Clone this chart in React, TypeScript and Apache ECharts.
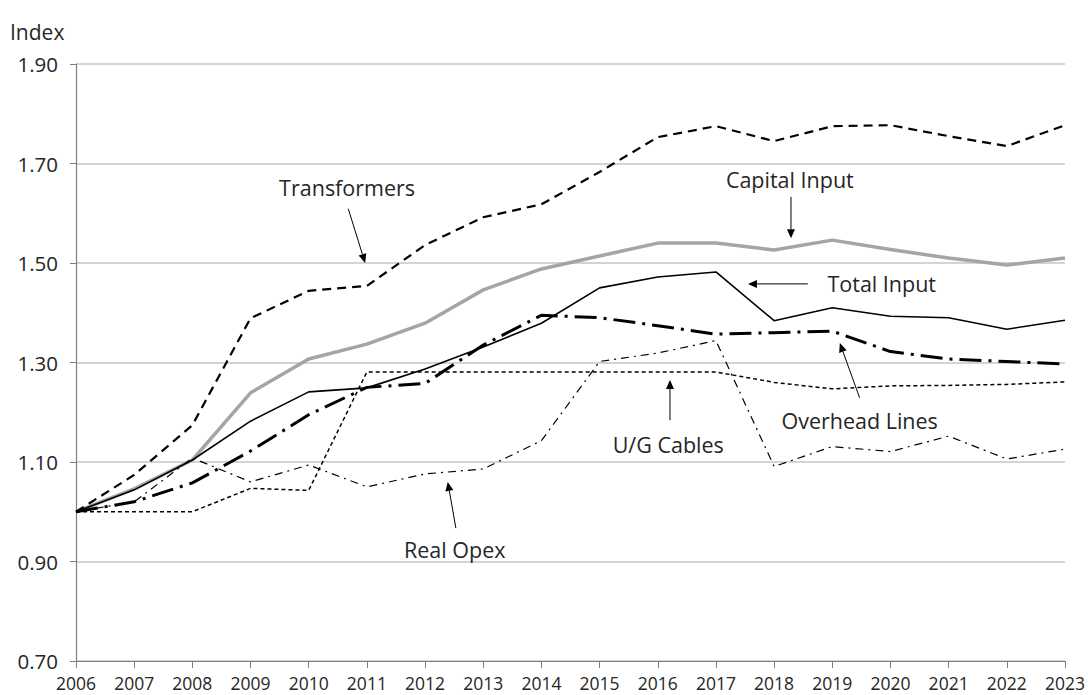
import React, { useEffect, useRef } from "react";
import * as echarts from "echarts";

const years = [2006, 2007, 2008, 2009, 2010, 2011, 2012, 2013, 2014, 2015, 2016, 2017, 2018, 2019, 2020, 2021, 2022, 2023];

const transformers = [1.0, 1.074, 1.174, 1.389, 1.444, 1.454, 1.536, 1.592, 1.618, 1.683, 1.753, 1.775, 1.745, 1.775, 1.777, 1.755, 1.735, 1.777];
const capitalInput = [1.0, 1.046, 1.104, 1.239, 1.307, 1.337, 1.379, 1.446, 1.488, 1.514, 1.54, 1.54, 1.526, 1.546, 1.527, 1.51, 1.496, 1.51];
const totalInput = [1.0, 1.044, 1.104, 1.182, 1.241, 1.249, 1.287, 1.331, 1.379, 1.45, 1.472, 1.482, 1.384, 1.41, 1.393, 1.39, 1.367, 1.385];
const overheadLines = [1.0, 1.02, 1.058, 1.122, 1.195, 1.25, 1.258, 1.335, 1.395, 1.39, 1.374, 1.357, 1.36, 1.363, 1.322, 1.307, 1.302, 1.297];
const ugCables = [1.0, 1.0, 1.0, 1.047, 1.043, 1.281, 1.281, 1.281, 1.281, 1.281, 1.281, 1.281, 1.26, 1.247, 1.253, 1.254, 1.256, 1.261];
const realOpex = [1.0, 1.02, 1.108, 1.06, 1.094, 1.05, 1.076, 1.086, 1.143, 1.302, 1.319, 1.344, 1.091, 1.131, 1.121, 1.152, 1.106, 1.126];

const yTicks = { min: 0.7, max: 1.9, interval: 0.2 };

// annotations: label text, label anchor [year, value], arrow from, arrow to (data coords)
const annotations = [
  { text: "Transformers", at: [2010.66, 1.651], from: [2010.68, 1.609], to: [2010.97, 1.5] },
  { text: "Capital Input", at: [2018.27, 1.667], from: [2018.29, 1.633], to: [2018.29, 1.55] },
  { text: "Total Input", at: [2019.85, 1.458], from: [2018.58, 1.458], to: [2017.55, 1.458] },
  { text: "Overhead Lines", at: [2019.47, 1.184], from: [2019.47, 1.229], to: [2019.13, 1.339] },
  { text: "U/G Cables", at: [2016.18, 1.136], from: [2016.21, 1.184], to: [2016.21, 1.265] },
  { text: "Real Opex", at: [2012.51, 0.925], from: [2012.53, 0.967], to: [2012.39, 1.06] },
];

const FONT = "'Open Sans', 'Noto Sans', sans-serif";
const TEXT = "#262626";

function pairs(vals: number[]) {
  return years.map((y, i) => [y, vals[i]]);
}

export default function App() {
  const ref = useRef<HTMLDivElement>(null);
  useEffect(() => {
    if (!ref.current) return;
    const chart = echarts.init(ref.current, undefined, { renderer: "svg" });
    const mk = (name: string, vals: number[], color: string, width: number, type: any, z = 2) => ({
      name,
      type: "line",
      data: pairs(vals),
      showSymbol: false,
      symbol: "none",
      z,
      lineStyle: { color, width, type, cap: "butt", join: "round" },
    });
    chart.setOption({
      animation: false,
      grid: { left: 76, right: 20, top: 64, bottom: 34, containLabel: false },
      xAxis: {
        type: "value",
        min: years[0],
        max: years[years.length - 1],
        interval: 1,
        axisLine: { show: true, onZero: false, lineStyle: { color: "#7f7f7f", width: 1.2 } },
        axisTick: { show: true, inside: false, length: 7, lineStyle: { color: "#7f7f7f" } },
        splitLine: { show: false },
        axisLabel: { color: TEXT, fontSize: 17.5, fontFamily: FONT, margin: 13, formatter: (v: number) => String(v) },
      },
      yAxis: {
        type: "value",
        min: yTicks.min,
        max: yTicks.max,
        interval: yTicks.interval,
        name: "Index",
        nameLocation: "end",
        nameGap: 22,
        nameTextStyle: { color: TEXT, fontSize: 21, fontFamily: FONT, align: "left", padding: [0, 0, 0, -66] },
        axisLine: { show: true, lineStyle: { color: "#7f7f7f", width: 1.2 } },
        axisTick: { show: true, inside: false, length: 6, lineStyle: { color: "#7f7f7f" } },
        splitLine: { show: true, lineStyle: { color: "#c6c6c6", width: 1.5 } },
        axisLabel: { color: TEXT, fontSize: 20.5, fontFamily: FONT, margin: 18, formatter: (v: number) => v.toFixed(2) },
      },
      series: [
        mk("Capital Input", capitalInput, "#a5a5a5", 3.5, "solid", 1),
        mk("Transformers", transformers, "#000", 2.2, [9, 6]),
        mk("Total Input", totalInput, "#000", 1.6, "solid"),
        mk("Overhead Lines", overheadLines, "#000", 3, [22, 7, 3, 7]),
        mk("U/G Cables", ugCables, "#000", 1.5, [4, 3]),
        mk("Real Opex", realOpex, "#000", 1.2, [8, 5, 2, 5]),
      ],
    });

    const graphic: any[] = [];
    annotations.forEach((a) => {
      const p = chart.convertToPixel({ gridIndex: 0 }, a.at) as number[];
      const f = chart.convertToPixel({ gridIndex: 0 }, a.from) as number[];
      const t = chart.convertToPixel({ gridIndex: 0 }, a.to) as number[];
      graphic.push({
        type: "text",
        x: p[0],
        y: p[1],
        style: { text: a.text, fill: TEXT, font: `21.5px ${FONT}`, textAlign: "center", textVerticalAlign: "middle" },
      });
      const dx = t[0] - f[0];
      const dy = t[1] - f[1];
      const len = Math.sqrt(dx * dx + dy * dy);
      const ux = dx / len, uy = dy / len;
      const hl = 9, hw = 4;
      const bx = t[0] - ux * hl, by = t[1] - uy * hl;
      graphic.push({
        type: "line",
        shape: { x1: f[0], y1: f[1], x2: bx, y2: by },
        style: { stroke: "#000", lineWidth: 1 },
      });
      graphic.push({
        type: "polygon",
        shape: { points: [[t[0], t[1]], [bx - uy * hw, by + ux * hw], [bx + uy * hw, by - ux * hw]] },
        style: { fill: "#000" },
      });
    });
    chart.setOption({ graphic });
    return () => chart.dispose();
  }, []);
  return <div ref={ref} style={{ width: 1088, height: 695, position: "absolute", left: 0, top: 0, background: "#fff" }} />;
}
